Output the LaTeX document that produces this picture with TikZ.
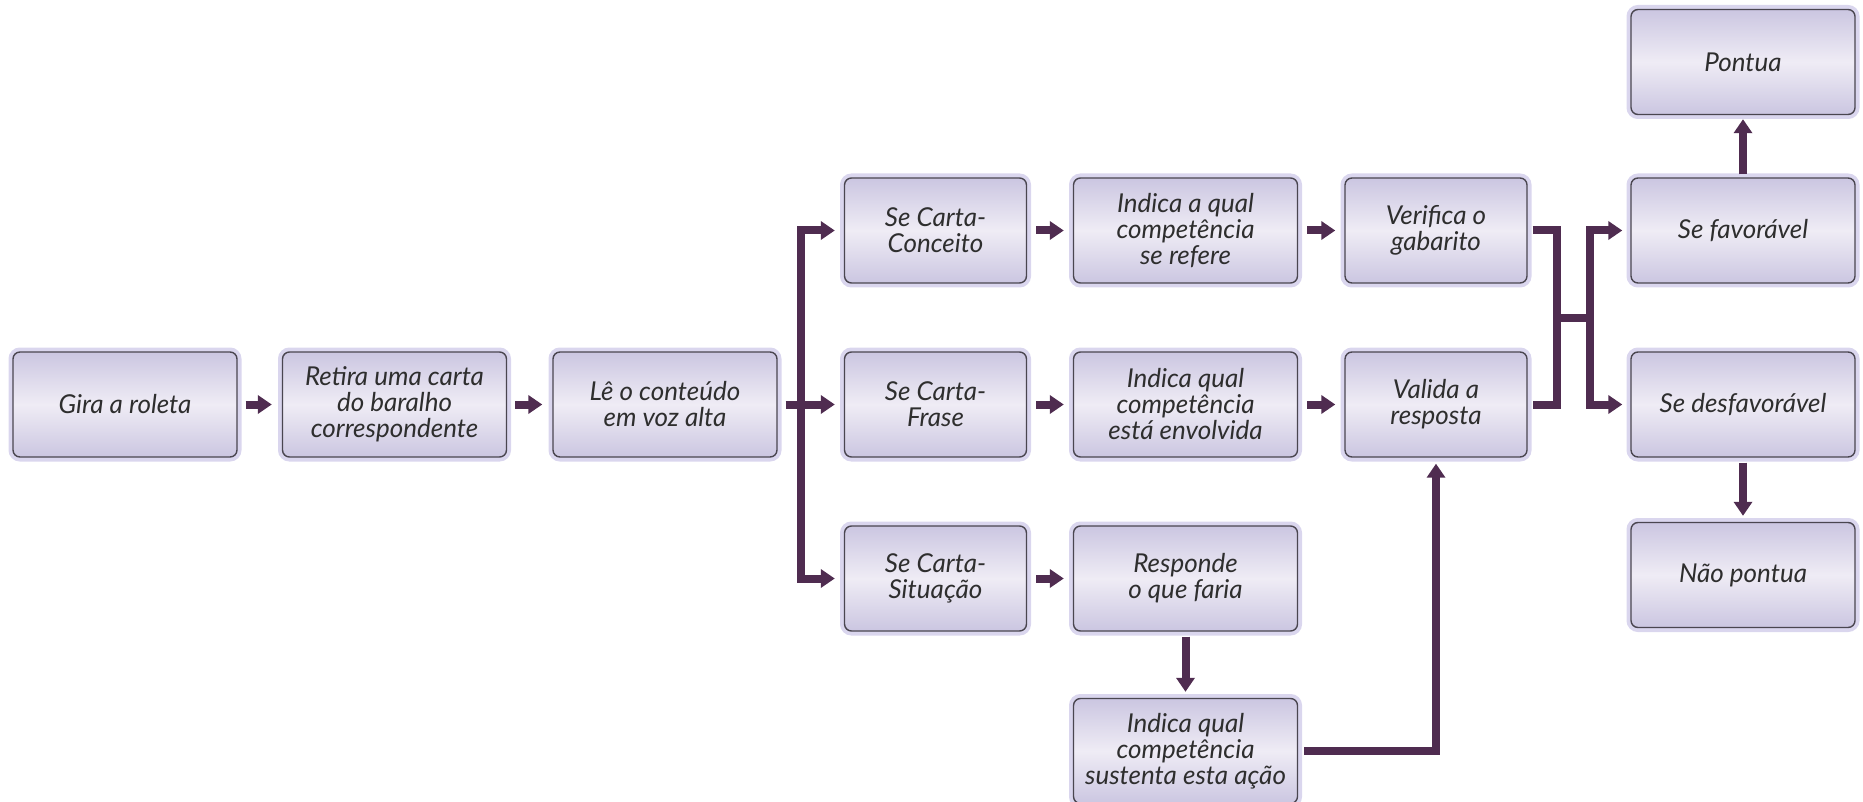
\documentclass[tikz,border=0pt]{standalone}
\usepackage{fontspec}
\setmainfont{Lato}
\usetikzlibrary{arrows.meta,calc}
\definecolor{arrowcol}{HTML}{4F2C50}
\definecolor{boxborder}{HTML}{4A4650}
\definecolor{glow}{HTML}{DAD6EE}
\definecolor{boxedge}{HTML}{CBC6E1}
\definecolor{boxmid}{HTML}{EFECF5}
\definecolor{textcol}{HTML}{2E2E2E}
\tikzset{
  box/.style={rounded corners=3.5pt, draw=boxborder, line width=0.7pt,
    top color=boxedge, bottom color=boxedge, middle color=boxmid,
    minimum width=112pt, minimum height=52.5pt, align=center, inner sep=2pt,
    text=textcol, font=\itshape\fontsize{13}{13}\selectfont,
    preaction={draw=glow, line width=4.5pt}},
  nbox/.style={box, minimum width=91pt},
  ln/.style={draw=arrowcol, line width=4pt, line join=miter},
  arr/.style={ln, -{Triangle[length=7pt,width=9pt]}}
}
\begin{document}
\begin{tikzpicture}[x=0.5pt,y=-0.5pt]
\useasboundingbox (0,0) rectangle (1863,802);
% boxes
\node[box]  (g)   at (125,404.5)  {Gira a roleta};
\node[box]  (r)   at (394.5,404.5) {Retira uma carta\\do baralho\\correspondente};
\node[box]  (le)  at (665,404.5)  {Lê o conteúdo\\em voz alta};
\node[nbox] (sc1) at (935.5,230.5) {Se Carta-\\Conceito};
\node[nbox] (sc2) at (935.5,404.5) {Se Carta-\\Frase};
\node[nbox] (sc3) at (935.5,578.5) {Se Carta-\\Situação};
\node[box]  (i1)  at (1185.5,230.5) {Indica a qual\\competência\\se refere};
\node[box]  (i2)  at (1185.5,404.5) {Indica qual\\competência\\está envolvida};
\node[box]  (re)  at (1185.5,578.5) {Responde\\o que faria};
\node[box]  (su)  at (1185.5,751) {Indica qual\\competência\\sustenta esta ação};
\node[nbox] (v)   at (1436,230.5) {Verifica o\\gabarito};
\node[nbox] (va)  at (1436,404.5) {Valida a\\resposta};
\node[box]  (po)  at (1743,62)    {Pontua};
\node[box]  (sf)  at (1743,230.5) {Se favorável};
\node[box]  (sd)  at (1743,404.5) {Se desfavorável};
\node[box]  (np)  at (1743,575)   {Não pontua};
% coordinates
\coordinate (split) at (801,404.5);
\coordinate (jl) at (1557,0);
\coordinate (jr) at (1590,0);
\coordinate (jmid) at ($(v.east)!0.5!(va.east)$);
% connectors
\draw[arr] ([xshift=4pt]g.east) -- ([xshift=-5pt]r.west);
\draw[arr] ([xshift=4pt]r.east) -- ([xshift=-5pt]le.west);
\draw[arr] ([xshift=4pt]le.east) -- ([xshift=-4.5pt]sc2.west);
\draw[arr] (split) |- ([xshift=-4.5pt]sc1.west);
\draw[arr] (split) |- ([xshift=-4.5pt]sc3.west);
\draw[arr] ([xshift=4.5pt]sc1.east) -- ([xshift=-4.5pt]i1.west);
\draw[arr] ([xshift=4.5pt]sc2.east) -- ([xshift=-4.5pt]i2.west);
\draw[arr] ([xshift=4.5pt]sc3.east) -- ([xshift=-4.5pt]re.west);
\draw[arr] ([xshift=4.5pt]i1.east) -- ([xshift=-4.5pt]v.west);
\draw[arr] ([xshift=4.5pt]i2.east) -- ([xshift=-4.5pt]va.west);
\draw[arr] ([yshift=-2.5pt]re.south) -- ([yshift=3pt]su.north);
\draw[arr] ([xshift=3pt]su.east) -| ([yshift=-3pt]va.south);
\draw[ln] ([xshift=2.5pt]v.east) -| (jl |- va.east) -- ([xshift=2.5pt]va.east);
\draw[ln] (jl |- jmid) -- (jr |- jmid);
\draw[arr] (jr |- jmid) |- ([xshift=-4pt]sf.west);
\draw[arr] (jr |- jmid) |- ([xshift=-4pt]sd.west);
\draw[arr] ([yshift=1.5pt]sf.north) -- ([yshift=-2pt]po.south);
\draw[arr] ([yshift=-2.5pt]sd.south) -- ([yshift=3pt]np.north);
\end{tikzpicture}
\end{document}
